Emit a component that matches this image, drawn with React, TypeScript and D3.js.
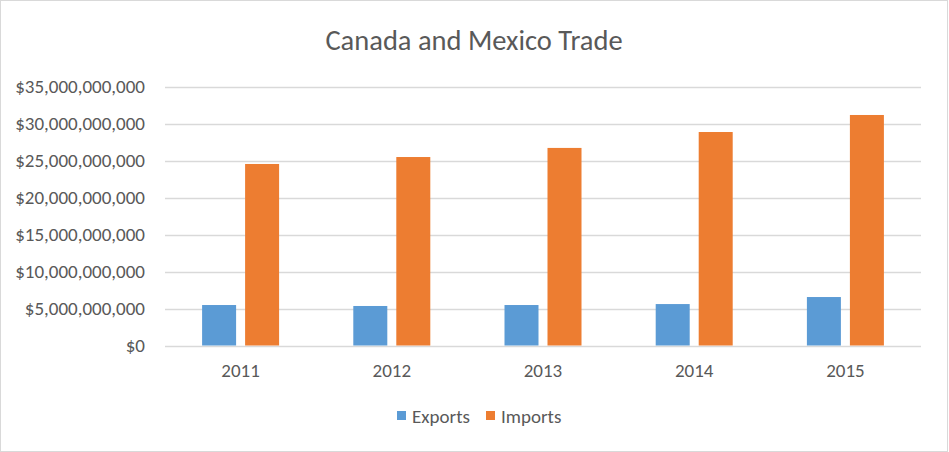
import React from "react";
import * as d3 from "d3";

const years = ["2011", "2012", "2013", "2014", "2015"];
const exportsVals = [5.47e9, 5.34e9, 5.47e9, 5.6e9, 6.55e9];
const importsVals = [24.53e9, 25.47e9, 26.7e9, 28.85e9, 31.15e9];
const yTicks = [0, 5e9, 10e9, 15e9, 20e9, 25e9, 30e9, 35e9];
const seriesNames = ["Exports", "Imports"];
const colors = ["#5b9bd5", "#ed7d31"];

const W = 949, H = 452;
const FONT = "Carlito, Calibri, Lato, 'Open Sans', sans-serif";

export default function App() {
  React.useEffect(() => { document.body.style.margin = "0"; }, []);
  const x0 = d3.scaleBand().domain(years).range([165, 921]);
  const y = d3.scaleLinear().domain([0, 35e9]).range([345.5, 86.5]);
  const barW = 34, gap = 9;
  const fmt = (v: number) => "$" + d3.format(",")(v);
  const series = [exportsVals, importsVals];
  return (
    <svg width={W} height={H} style={{ display: "block" }}>
      <rect x={0} y={0} width={W} height={H} fill="#fff" />
      <rect x={0.5} y={0.5} width={W - 2} height={H - 1} fill="none" stroke="#d9d9d9" />
      <text x={474} y={50} textAnchor="middle" fontFamily={FONT} fontSize={28.5} fill="#595959">
        Canada and Mexico Trade
      </text>
      {yTicks.map((t) => (
        <g key={t}>
          <line x1={165} x2={921} y1={Math.round(y(t)) + 0.5} y2={Math.round(y(t)) + 0.5} stroke="#d9d9d9" strokeWidth={1.3} />
          <text x={145} y={y(t)} dy="0.35em" textAnchor="end" fontFamily={FONT} fontSize={19} fill="#595959">
            {fmt(t)}
          </text>
        </g>
      ))}
      {years.map((yr, i) => {
        const c = (x0(yr) as number) + x0.bandwidth() / 2;
        return (
          <g key={yr}>
            {series.map((s, k) => {
              const bx = k === 0 ? c - gap / 2 - barW : c + gap / 2;
              return (
                <rect key={k} x={bx} y={y(s[i])} width={barW} height={y(0) - y(s[i])} fill={colors[k]} />
              );
            })}
            <text x={c} y={370} dy="0.35em" textAnchor="middle" fontFamily={FONT} fontSize={19} fill="#595959">
              {yr}
            </text>
          </g>
        );
      })}
      {seriesNames.map((n, k) => {
        const lx = k === 0 ? 397 : 486;
        return (
          <g key={n}>
            <rect x={lx} y={411} width={9} height={9} fill={colors[k]} />
            <text x={lx + 15} y={416} dy="0.35em" fontFamily={FONT} fontSize={19} fill="#595959">{n}</text>
          </g>
        );
      })}
    </svg>
  );
}
